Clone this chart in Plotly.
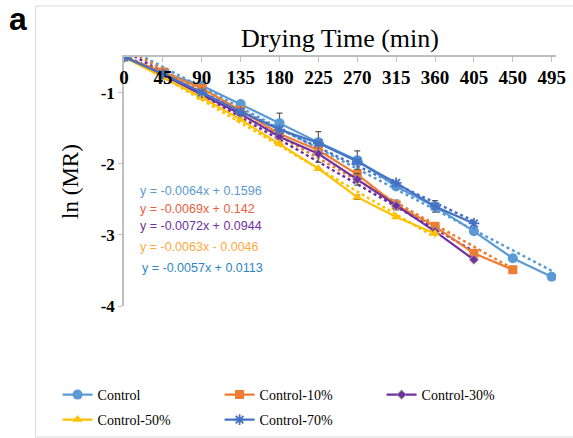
import numpy as np
import plotly.graph_objects as go

# ---- data ----
time_min = [0, 45, 90, 135, 180, 225, 270, 315, 360, 405, 450, 495]
series_names = ["Control", "Control-10%", "Control-30%", "Control-50%", "Control-70%"]
control = [-0.5, -0.72, -0.90, -1.16, -1.43, -1.70, -1.95, -2.32, -2.60, -2.95, -3.33, -3.59]
control_10 = [-0.5, -0.71, -0.94, -1.25, -1.58, -1.81, -2.15, -2.58, -2.88, -3.26, -3.49]
control_30 = [-0.5, -0.75, -1.03, -1.30, -1.62, -1.86, -2.22, -2.59, -2.95, -3.35]
control_50 = [-0.5, -0.78, -1.07, -1.38, -1.72, -2.07, -2.47, -2.75, -2.98]
control_70 = [-0.5, -0.74, -1.00, -1.27, -1.52, -1.71, -1.97, -2.27, -2.60, -2.84]
err_control = [0, 0, 0, 0.04, 0.14, 0.15, 0.13, 0.03, 0.08, 0.03, 0, 0]
err_10 = [0, 0, 0, 0, 0, 0, 0, 0.07, 0.03, 0, 0]
err_30 = [0, 0, 0, 0, 0.04, 0.12, 0.08, 0.03, 0, 0]
err_50 = [0, 0, 0, 0, 0, 0, 0.03, 0, 0]
err_70 = [0, 0, 0, 0, 0, 0, 0, 0, 0, 0]
equations = [
    "y = -0.0064x + 0.1596",
    "y = -0.0069x + 0.142",
    "y = -0.0072x + 0.0944",
    "y = -0.0063x - 0.0046",
    "y = -0.0057x + 0.0113",
]
x_ticks = time_min
x_tick_labels = [str(v) for v in time_min]
y_ticks = [-1, -2, -3, -4]
y_tick_labels = ["-1", "-2", "-3", "-4"]

values = [control, control_10, control_30, control_50, control_70]
errors = [err_control, err_10, err_30, err_50, err_70]
colors = ["#5B9BD5", "#ED7D31", "#7030A0", "#FFC000", "#4472C4"]
eq_colors = ["#5B9BD5", "#E8603C", "#7030A0", "#FFA940", "#2E86C1"]
symbols = ["circle", "square", "diamond", "triangle-up", "asterisk-open"]
msizes = [10, 9, 7, 9, 9]
legend_ids = ["legend", "legend", "legend", "legend2", "legend2"]

SERIF = "Liberation Serif"
W, H = 573, 438
M_L, M_R, M_T = 123.5, 17, 57
PLOT_BOTTOM = 306
M_B = H - PLOT_BOTTOM
PAPER_H = PLOT_BOTTOM - M_T
PAPER_W = W - M_L - M_R


def py(px):
    return (PLOT_BOTTOM - px) / PAPER_H


def pxx(px):
    return (px - M_L) / PAPER_W


fig = go.Figure()

# trendlines (dotted), drawn first
for name, vals, col in zip(series_names, values, colors):
    t = np.array(time_min[:len(vals)], dtype=float)
    slope, icpt = np.polyfit(t, np.array(vals), 1)
    fig.add_trace(go.Scatter(
        x=t, y=slope * t + icpt, mode="lines", showlegend=False, hoverinfo="skip",
        line=dict(color=col, width=2.5, dash="dot")))

for name, vals, err, col, sym, ms, lg in zip(series_names, values, errors, colors,
                                             symbols, msizes, legend_ids):
    marker = dict(symbol=sym, size=ms, color=col)
    if sym == "asterisk-open":
        marker["line"] = dict(color=col, width=1.8)
    elif sym == "diamond":
        marker["line"] = dict(color="#999999", width=1)
    fig.add_trace(go.Scatter(
        x=time_min[:len(vals)], y=vals, name=name, mode="lines+markers", legend=lg,
        line=dict(color=col, width=2.2), marker=marker,
        error_y=dict(type="data", array=err, color="#595959", thickness=1.2, width=3)))

for i, (eq, ec) in enumerate(zip(equations, eq_colors)):
    ypx = [191, 209, 226, 247, 268][i]
    xpx = 138 if i < 4 else 140
    fig.add_annotation(
        xref="paper", yref="paper", x=pxx(xpx), y=py(ypx),
        xanchor="left", yanchor="middle", showarrow=False,
        text=eq, font=dict(family="Liberation Sans", size=12.5, color=ec))

fig.add_annotation(
    xref="paper", yref="paper", x=pxx(17), y=py(19),
    xanchor="center", yanchor="middle", showarrow=False, text="<b>a</b>",
    font=dict(family="Liberation Sans", size=32, color="black"))

# chart frame
fig.add_shape(type="rect", xref="paper", yref="paper",
              x0=pxx(35), x1=pxx(590), y0=py(437), y1=py(6),
              line=dict(color="#D9D9D9", width=1), fillcolor="rgba(0,0,0,0)", layer="below")

legend_common = dict(orientation="h", xanchor="left", yanchor="middle",
                     entrywidth=117, entrywidthmode="pixels",
                     font=dict(family=SERIF, size=14, color="black"),
                     bgcolor="rgba(0,0,0,0)", itemwidth=30)

fig.update_layout(
    width=W, height=H,
    margin=dict(l=M_L, r=M_R, t=M_T, b=M_B, autoexpand=False),
    paper_bgcolor="white", plot_bgcolor="white",
    showlegend=True,
    legend=dict(x=pxx(57), y=py(395), **legend_common),
    legend2=dict(x=pxx(57), y=py(420), **legend_common),
    xaxis=dict(side="top", range=[0, 500], tickvals=x_ticks, ticktext=x_tick_labels,
               ticks="inside", ticklen=5, tickcolor="#BFBFBF", tickwidth=1,
               showline=True, linecolor="#BFBFBF", linewidth=1.5,
               showgrid=False, zeroline=False,
               ticklabelposition="inside", ticklabeloverflow="allow", ticklabelstandoff=10,
               tickfont=dict(family=SERIF, size=19, color="black", weight="bold"),
               title=dict(text="Drying Time (min)", standoff=12,
                          font=dict(family=SERIF, size=26, color="black"))),
    yaxis=dict(range=[-4, -0.5], tickvals=y_ticks, ticktext=y_tick_labels,
               ticks="outside", ticklen=4, tickcolor="#BFBFBF",
               showline=True, linecolor="#BFBFBF", linewidth=1.5,
               showgrid=False, zeroline=False,
               tickfont=dict(family=SERIF, size=17, color="black", weight="bold"),
               title=dict(text="ln (MR)", standoff=16,
                          font=dict(family=SERIF, size=23, color="black"))),
)

fig.write_html("out.html")
